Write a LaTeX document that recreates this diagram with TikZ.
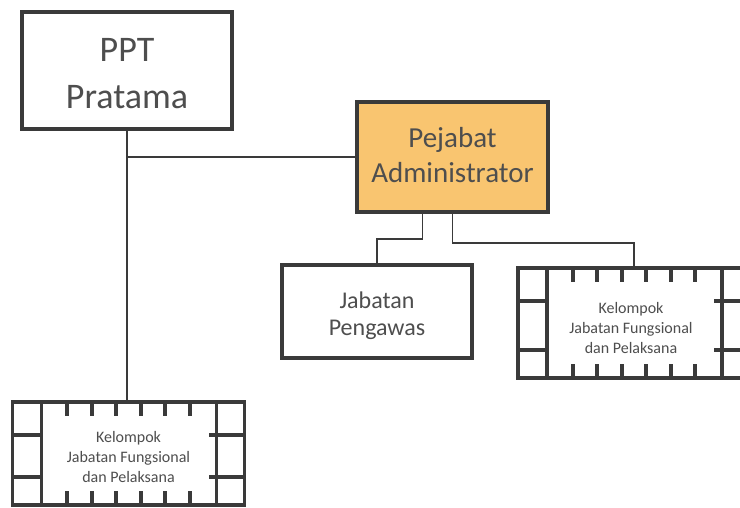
\documentclass[tikz,border=0pt]{standalone}
\usepackage{fontspec}
\setmainfont{Carlito}
\usetikzlibrary{calc}

\definecolor{edge}{RGB}{58,58,58}
\definecolor{ink}{RGB}{78,78,78}
\definecolor{admfill}{RGB}{249,197,112}

% Ladder-like decoration of the "Kelompok" group boxes
\newcommand{\kelompokframe}{%
  \begin{scope}[draw=edge, line width=3.6pt]
    % inner verticals of the side strips
    \draw ([xshift=29pt]path picture bounding box.north west) -- ([xshift=29pt]path picture bounding box.south west);
    \draw ([xshift=-28pt]path picture bounding box.north east) -- ([xshift=-28pt]path picture bounding box.south east);
    % rungs of the left strip
    \draw ([yshift=-33pt]path picture bounding box.north west) -- ++(29,0);
    \draw ([yshift=28pt]path picture bounding box.south west) -- ++(29,0);
    % rungs of the right strip
    \draw ([yshift=-33pt]path picture bounding box.north east) -- ++(-36,0);
    \draw ([yshift=28pt]path picture bounding box.south east) -- ++(-36,0);
    % short ticks on top and bottom
    \foreach \dx in {-61.25,-36.75,-12.25,12.25,36.75,61.25} {
      \draw ([xshift=\dx pt]path picture bounding box.north) -- ++(0,14);
      \draw ([xshift=\dx pt]path picture bounding box.south) -- ++(0,-14);
    }
  \end{scope}}

\begin{document}
\begin{tikzpicture}[x=1pt, y=-1pt,
  box/.style={draw=edge, line width=3.4pt, rectangle, inner sep=0pt, fill=white},
  lbl/.style={align=center, text=ink, inner sep=0pt},
  conn/.style={draw=edge, line width=1.8pt},
  kbox/.style={box, line width=3.8pt, minimum width=232pt,
               path picture={\kelompokframe}},
  klbl/.style={lbl, font=\fontsize{16}{20}\selectfont}]

\useasboundingbox (0,0) rectangle (740,507);
\clip (0,0) rectangle (740,507);
\fill[white] (0,0) rectangle (740,507);

% units
\node[box, minimum width=210pt, minimum height=117pt] (ppt) at (127,70.5) {};
\node[lbl, font=\fontsize{36}{47}\selectfont] (ppttxt) at ([yshift=-3pt]ppt.center) {PPT\\Pratama};

\node[box, fill=admfill, minimum width=191pt, minimum height=110pt] (adm) at (452.5,157) {};
\node[lbl, font=\fontsize{29}{35}\selectfont] (admtxt) at ([yshift=1.5pt]adm.center) {Pejabat\\Administrator};

\node[box, minimum width=190pt, minimum height=93pt] (pgw) at (377,311.5) {};
\node[lbl, font=\fontsize{24}{27}\selectfont] (pgwtxt) at ([yshift=-4pt]pgw.center) {Jabatan\\Pengawas};

\node[kbox, minimum height=110pt] (kfr) at (634,323) {};
\node[klbl] (kfrtxt) at ([xshift=-3pt, yshift=-5pt]kfr.center)
      {Kelompok\\Jabatan Fungsional\\dan Pelaksana};

\node[kbox, minimum height=103pt] (kfl) at (128.5,453.5) {};
\node[klbl] (kfltxt) at ([yshift=-3.5pt]kfl.center)
      {Kelompok\\Jabatan Fungsional\\dan Pelaksana};

% connectors
\draw[conn] (ppt.south) -- (ppt.south |- kfl.north);
\draw[conn] (adm.west) -- (adm.west -| ppt.south);
\draw[conn] ([xshift=-30pt]adm.south) -- ++(0,25) -| (pgw.north);
\draw[conn] (adm.south) -- ++(0,29) -| (kfr.north);

\end{tikzpicture}
\end{document}
